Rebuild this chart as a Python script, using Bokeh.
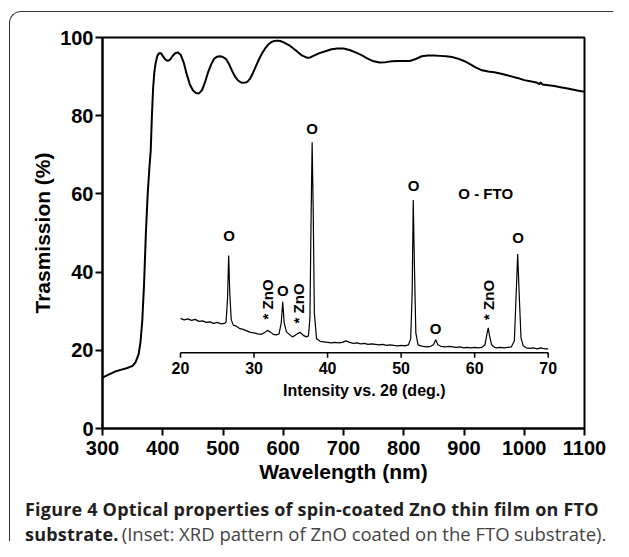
import math
from bokeh.plotting import figure
from bokeh.models import Range1d, FixedTicker, Div
from bokeh.layouts import column
from bokeh.core.properties import value
from bokeh.embed import file_html
from bokeh.resources import INLINE

# ---- main curve: optical transmission ----
wavelength = [300, 310, 320, 330, 340, 350, 355, 360, 363, 366, 369, 372, 375, 378, 380,
              382, 384, 386, 388, 391, 394, 397, 400, 404, 408, 412, 416, 420, 425, 430,
              435, 440, 445, 450, 455, 460, 465, 470, 475, 480, 485, 490, 495, 500, 505,
              510, 515, 520, 525, 530, 535, 540, 545, 550, 555, 560, 565, 570, 575, 580,
              585, 590, 595, 600, 610, 620, 630, 640, 645, 650, 660, 670, 680, 690, 700,
              710, 720, 730, 740, 750, 760, 770, 780, 790, 800, 810, 820, 830, 840, 850,
              860, 870, 880, 890, 900, 910, 920, 930, 940, 950, 960, 970, 980, 990, 1000,
              1010, 1020, 1025, 1027, 1030, 1040, 1050, 1060, 1070, 1080, 1090, 1100]
transmission = [13.0, 13.8, 14.5, 15.0, 15.4, 16.0, 17.0, 19.0, 22.0, 27.5, 37.0, 50.0, 60.0, 67.0, 71.0,
                80.0, 87.0, 91.0, 93.3, 95.3, 96.0, 96.0, 95.3, 94.4, 94.0, 94.3, 95.2, 95.9, 96.2, 95.5,
                93.5, 90.5, 88.0, 86.5, 85.8, 85.7, 86.5, 88.5, 91.0, 93.0, 94.5, 95.1, 95.2, 95.0, 94.5,
                93.2, 91.5, 90.0, 89.0, 88.5, 88.4, 88.6, 89.5, 91.0, 92.8, 94.5, 96.0, 97.2, 98.2, 98.8,
                99.1, 99.2, 99.1, 98.8, 98.0, 96.8, 95.5, 94.8, 94.9, 95.3, 96.0, 96.5, 97.0, 97.2, 97.2,
                96.8, 96.2, 95.5, 94.6, 93.9, 93.6, 93.7, 93.9, 94.0, 94.0, 94.0, 94.5, 95.2, 95.4, 95.4,
                95.3, 95.2, 95.0, 94.6, 94.0, 93.2, 92.3, 91.6, 91.3, 91.1, 90.8, 90.4, 90.0, 89.6, 89.1,
                88.8, 88.5, 88.1, 88.5, 88.0, 87.8, 87.6, 87.3, 87.0, 86.7, 86.4, 86.1]

x_ticks = [300, 400, 500, 600, 700, 800, 900, 1000, 1100]
y_ticks = [0, 20, 40, 60, 80, 100]

# ---- inset: XRD pattern (arbitrary units) ----
two_theta = [20.0, 20.5, 21.0, 21.5, 22.0, 22.5, 23.0, 23.5, 24.0, 24.5, 25.0, 25.5, 26.0, 26.2, 26.4,
             26.55, 26.7, 26.9, 27.2, 27.5, 28.0, 28.5, 29.0, 29.5, 30.0, 30.5, 31.0, 31.5, 31.8, 32.2,
             32.6, 33.0, 33.4, 33.7, 33.9, 34.1, 34.4, 34.8, 35.2, 35.6, 36.0, 36.3, 36.7, 37.1, 37.4,
             37.6, 37.75, 37.9, 38.05, 38.2, 38.5, 39.0, 39.5, 40.0, 40.5, 41.0, 41.5, 42.0, 42.5, 43.0,
             43.5, 44.0, 44.5, 45.0, 45.5, 46.0, 46.5, 47.0, 47.5, 48.0, 48.5, 49.0, 49.5, 50.0, 50.5,
             51.0, 51.3, 51.5, 51.65, 51.8, 52.0, 52.3, 52.7, 53.0, 53.5, 54.0, 54.4, 54.7, 55.0, 55.4,
             56.0, 56.5, 57.0, 57.5, 58.0, 58.5, 59.0, 59.5, 60.0, 60.5, 61.0, 61.4, 61.7, 61.85, 62.0,
             62.3, 62.7, 63.0, 63.5, 64.0, 64.5, 65.0, 65.4, 65.65, 65.85, 66.05, 66.3, 66.6, 67.0, 67.5,
             68.0, 68.5, 69.0, 69.5, 70.0]
intensity = [34.5, 33.0, 34.0, 32.5, 33.5, 31.5, 32.0, 30.5, 31.0, 29.5, 30.5, 29.0, 29.5, 31.0, 55.0,
             97.5, 60.0, 33.0, 27.5, 27.0, 24.5, 23.5, 22.0, 20.5, 20.0, 19.0, 18.5, 20.5, 22.5, 21.0,
             18.5, 18.0, 19.0, 30.0, 51.0, 30.0, 21.0, 18.5, 16.0, 17.5, 19.5, 20.5, 17.5, 16.0, 17.0,
             35.0, 130.0, 211.0, 140.0, 40.0, 14.0, 11.5, 11.0, 10.5, 10.0, 10.5, 10.0, 10.5, 12.0, 10.5,
             9.5, 10.0, 9.0, 9.5, 8.5, 9.0, 8.5, 8.0, 8.5, 7.5, 8.0, 7.5, 7.0, 7.5, 7.0,
             8.0, 14.0, 60.0, 153.0, 90.0, 20.0, 8.0, 7.0, 6.5, 6.0, 6.5, 8.0, 13.0, 8.0, 6.5,
             6.0, 6.5, 6.0, 5.5, 6.0, 5.0, 5.5, 5.0, 5.5, 5.0, 5.5, 8.0, 20.0, 25.0, 18.0,
             8.0, 5.5, 5.0, 5.5, 5.0, 5.5, 6.0, 12.0, 60.0, 99.0, 60.0, 15.0, 7.0, 5.0, 4.5,
             5.0, 4.0, 5.0, 4.0, 4.0]
xrd_ticks = [20, 30, 40, 50, 60, 70]
fto_peak_pos = [26.6, 33.9, 37.9, 51.7, 54.7, 65.9]
fto_mark_height = [117.5, 62.5, 224.5, 167.5, 24.2, 115.8]
zno_peak_pos = [31.8, 36.05, 61.9]
zno_mark_height = [53.5, 49.5, 53.0]

caption_bold = "Figure 4 Optical properties of spin-coated ZnO thin film on FTO"
caption_bold2 = "substrate."
caption_rest = "(Inset: XRD pattern of ZnO coated on the FTO substrate)."

AX_FONT = "Liberation Sans"
FIG_H = 494

p = figure(width=613, height=FIG_H, x_range=Range1d(300, 1100), y_range=Range1d(0, 100),
           output_backend="svg", toolbar_location=None, title=None,
           min_border_left=102, min_border_right=29, min_border_top=37, min_border_bottom=FIG_H - 428)
p.background_fill_color = "white"
p.border_fill_color = "white"
p.grid.visible = False
p.outline_line_color = "black"
p.outline_line_width = 2

for ax in (p.xaxis[0], p.yaxis[0]):
    ax.axis_line_width = 2
    ax.major_tick_line_width = 2
    ax.major_tick_out = 7
    ax.major_tick_in = 0
    ax.minor_tick_line_color = None
    ax.major_label_text_font = AX_FONT
    ax.major_label_text_font_style = "bold"
    ax.major_label_text_font_size = "20px"
    ax.major_label_text_color = "black"
    ax.axis_label_text_font = AX_FONT
    ax.axis_label_text_font_style = "bold"
    ax.axis_label_text_font_size = "21px"
    ax.axis_label_text_color = "black"

p.xaxis.ticker = FixedTicker(ticks=x_ticks)
p.yaxis.ticker = FixedTicker(ticks=y_ticks)
p.xaxis.axis_label = "Wavelength (nm)"
p.yaxis.axis_label = "Trasmission (%)"
p.xaxis.major_label_standoff = 5
p.yaxis.major_label_standoff = 2
p.xaxis.axis_label_standoff = 2
p.yaxis.axis_label_standoff = 3

p.line(wavelength, transmission, line_color="black", line_width=2)

# inset coordinate system
p.extra_x_ranges = {"xrd": Range1d(9.393, 74.936)}
p.extra_y_ranges = {"xrd": Range1d(-75.8, 315.8)}
R = dict(x_range_name="xrd", y_range_name="xrd")

p.line(two_theta, intensity, line_color="black", line_width=1.2, **R)
p.segment(x0=[xrd_ticks[0]], y0=[0], x1=[xrd_ticks[-1]], y1=[0], line_color="black", line_width=1.5, **R)
p.segment(x0=xrd_ticks, y0=[0] * len(xrd_ticks), x1=xrd_ticks, y1=[-5] * len(xrd_ticks),
          line_color="black", line_width=1.5, **R)
p.text(x=xrd_ticks, y=[-15.5] * len(xrd_ticks), text=[str(t) for t in xrd_ticks],
       text_align="center", text_baseline="middle", text_font=value(AX_FONT),
       text_font_style="bold", text_font_size="16px", text_color="black", **R)
p.text(x=[45], y=[-38], text=["Intensity vs. 2\u03b8 (deg.)"], text_align="center", text_baseline="middle",
       text_font=value(AX_FONT), text_font_style="bold", text_font_size="16px", text_color="black", **R)
p.text(x=fto_peak_pos, y=fto_mark_height, text=["O"] * len(fto_peak_pos), text_align="center",
       text_baseline="middle", text_font=value(AX_FONT), text_font_style="bold",
       text_font_size="15px", text_color="black", **R)
p.text(x=zno_peak_pos, y=zno_mark_height, text=["* ZnO"] * len(zno_peak_pos), angle=math.pi / 2,
       text_align="center", text_baseline="middle", text_font=value(AX_FONT), text_font_style="bold",
       text_font_size="15px", text_color="black", **R)
p.text(x=[61.5], y=[160], text=["O - FTO"], text_align="center", text_baseline="middle",
       text_font=value(AX_FONT), text_font_style="bold", text_font_size="15px", text_color="black", **R)

cap_html = (
    '<div style="position:relative;font-family:\'Open Sans\',sans-serif;line-height:22px;'
    'color:#231f20;padding:4px 0 0 25px;white-space:nowrap;margin:0;">'
    '<div style="position:absolute;left:9px;top:' + str(11 - FIG_H) + 'px;width:604px;height:'
    + str(541 - 11) + 'px;box-sizing:border-box;border-left:1.5px solid #333333;'
    'border-top:1.5px solid #333333;border-top-left-radius:12px;pointer-events:none;z-index:5;"></div>'
    '<b style="font-size:18px;letter-spacing:0.2px;">' + caption_bold + '</b><br>'
    '<b style="font-size:18px;letter-spacing:0.2px;">' + caption_bold2 + '</b> '
    '<span style="font-size:18.5px;color:#444444;">' + caption_rest + '</span></div>'
)
cap = Div(text=cap_html, width=613, height=541 - FIG_H, margin=0)

layout = column(p, cap, spacing=0)

open("out.html", "w").write(file_html(layout, INLINE))
